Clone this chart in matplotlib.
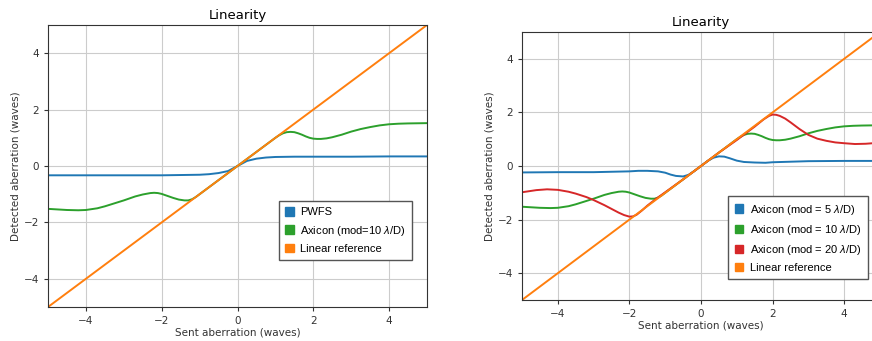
import matplotlib.pyplot as plt
from matplotlib.patches import Patch

plt.rcParams["mathtext.fontset"] = "custom"
plt.rcParams["mathtext.it"] = "Liberation Sans:italic"
plt.rcParams["mathtext.rm"] = "Liberation Sans"

# --- data ---
x_pwfs = [-5, -4, -3, -2, -1.5, -1, -0.75, -0.5, -0.25, 0, 0.25, 0.5, 0.75, 1, 1.5, 2, 3, 4, 5]
y_pwfs = [-0.33, -0.33, -0.33, -0.33, -0.32, -0.31, -0.29, -0.25, -0.18, 0, 0.18, 0.26, 0.30, 0.32, 0.33, 0.33, 0.33, 0.34, 0.34]

x_ax10 = [-5, -4.5, -4.2, -4, -3.7, -3.5, -3, -2.7, -2.5, -2.3, -2.2, -2.1, -2, -1.85, -1.7, -1.55,
          -1.4, -1.3, -1.2, -1.1, -1, -0.5, 0, 0.5, 1, 1.1, 1.2, 1.3, 1.4, 1.5, 1.6, 1.7, 1.8,
          1.9, 2, 2.1, 2.2, 2.35, 2.5, 2.75, 3, 3.25, 3.5, 3.75, 4, 4.25, 4.5, 5]
y_ax10 = [-1.52, -1.56, -1.57, -1.56, -1.5, -1.43, -1.22, -1.08, -1.01, -0.96, -0.95, -0.96, -0.99,
          -1.06, -1.13, -1.19, -1.22, -1.22, -1.18, -1.1, -1.0, -0.5, 0, 0.5, 1.0, 1.09, 1.16,
          1.2, 1.21, 1.2, 1.16, 1.11, 1.05, 1.0, 0.97, 0.96, 0.96, 0.98, 1.02, 1.11, 1.22, 1.31,
          1.38, 1.44, 1.48, 1.5, 1.51, 1.52]

x_ax5 = [-5, -4, -3, -2, -1.75, -1.5, -1.2, -1, -0.85, -0.7, -0.5, -0.35, -0.2, 0,
         0.2, 0.35, 0.5, 0.65, 0.8, 1, 1.2, 1.5, 1.8, 2, 3, 4, 5]
y_ax5 = [-0.24, -0.23, -0.23, -0.2, -0.18, -0.18, -0.2, -0.25, -0.32, -0.37, -0.39, -0.33, -0.2, 0,
         0.2, 0.31, 0.36, 0.35, 0.29, 0.2, 0.15, 0.13, 0.12, 0.14, 0.18, 0.19, 0.19]

x_ax20 = [-5, -4.6, -4.3, -4, -3.7, -3.5, -3.2, -3, -2.7, -2.5, -2.3, -2.15, -2, -1.9, -1.8, -1.65,
          -1.5, -1.25, -1, -0.5, 0, 0.5, 1, 1.5, 1.75, 1.9, 2, 2.1, 2.2, 2.35, 2.5, 2.75, 3,
          3.25, 3.5, 3.75, 4, 4.3, 4.6, 5]
y_ax20 = [-0.98, -0.9, -0.87, -0.89, -0.96, -1.03, -1.16, -1.27, -1.46, -1.6, -1.74, -1.83, -1.89,
          -1.88, -1.82, -1.66, -1.48, -1.22, -0.98, -0.5, 0, 0.5, 0.97, 1.47, 1.74, 1.87, 1.92,
          1.91, 1.87, 1.77, 1.63, 1.38, 1.16, 1.02, 0.94, 0.88, 0.85, 0.82, 0.83, 0.87]

x_lin = [-5, 5]
y_lin = [-5, 5]

blue, green, red, orange = "#1f77b4", "#2ca02c", "#d62728", "#ff7f0e"

fig = plt.figure(figsize=(8.72, 3.41), dpi=100)
W, H = 872, 341
ax1 = fig.add_axes([48 / W, 1 - 307 / H, 379 / W, 282 / H])
ax2 = fig.add_axes([522 / W, 1 - 300 / H, 358 / W, 268 / H])


def style(ax):
    ax.set_xlim(-5, 5)
    ax.set_ylim(-5, 5)
    ax.set_xticks([-4, -2, 0, 2, 4])
    ax.set_yticks([-4, -2, 0, 2, 4])
    ax.grid(True, color="#cccccc", linewidth=0.8)
    ax.tick_params(labelsize=7.5, length=3, colors="#333333")
    ax.set_title("Linearity", fontsize=9.5, pad=4)
    ax.set_xlabel("Sent aberration (waves)", fontsize=7.5, labelpad=1, color="#333333")
    ax.set_ylabel("Detected aberration (waves)", fontsize=7.5, labelpad=2, color="#333333")
    for s in ax.spines.values():
        s.set_color("#333333")


leg_kw = dict(loc="lower right", fancybox=False, edgecolor="#555555", framealpha=1,
              handlelength=0.8, handleheight=0.8, handletextpad=0.6, borderaxespad=0,
              prop={"family": "Liberation Sans", "size": 8}, borderpad=0.55,
              labelspacing=0.55)

style(ax1)
ax1.plot(x_pwfs, y_pwfs, color=blue, lw=1.4)
ax1.plot(x_ax10, y_ax10, color=green, lw=1.4)
ax1.plot(x_lin, y_lin, color=orange, lw=1.4)
h1 = [Patch(color=blue), Patch(color=green), Patch(color=orange)]
ax1.legend(h1, ["PWFS", r"Axicon (mod=10 $\lambda$/D)", "Linear reference"],
           bbox_to_anchor=(0.96, 0.167), **leg_kw)

style(ax2)
ax2.plot(x_ax5, y_ax5, color=blue, lw=1.4)
ax2.plot(x_ax10, y_ax10, color=green, lw=1.4)
ax2.plot(x_ax20, y_ax20, color=red, lw=1.4)
ax2.plot(x_lin, y_lin, color=orange, lw=1.4)
h2 = [Patch(color=blue), Patch(color=green), Patch(color=red), Patch(color=orange)]
ax2.legend(h2, [r"Axicon (mod = 5 $\lambda$/D)", r"Axicon (mod = 10 $\lambda$/D)",
                r"Axicon (mod = 20 $\lambda$/D)", "Linear reference"],
           bbox_to_anchor=(0.966, 0.078), **leg_kw)

fig.savefig("out.png", dpi=100)
